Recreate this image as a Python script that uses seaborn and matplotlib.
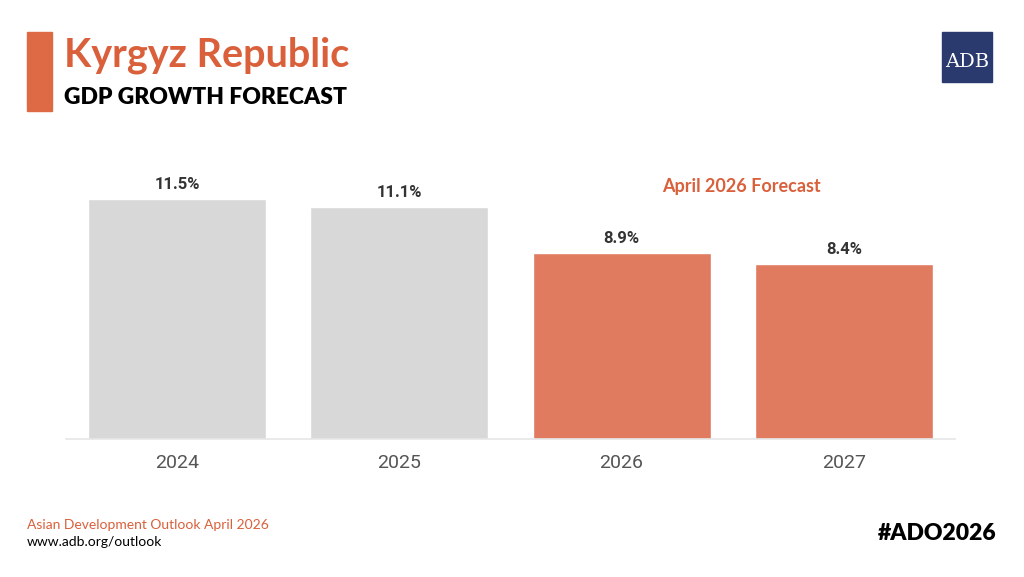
import matplotlib.pyplot as plt
import matplotlib.patches as mpatches
import pandas as pd
import seaborn as sns

# Data
years = ["2024", "2025", "2026", "2027"]
growth = [11.5, 11.1, 8.9, 8.4]
kind = ["Actual", "Actual", "Forecast", "Forecast"]
labels = ["11.5%", "11.1%", "8.9%", "8.4%"]

ORANGE = "#d9603b"
BAR_ORANGE = "#e07b60"
BAR_GRAY = "#d8d8d8"

sns.set_theme(style="white")
plt.rcParams["font.family"] = ["Lato", "DejaVu Sans"]

df = pd.DataFrame({"year": years, "growth": growth, "kind": kind})

fig = plt.figure(figsize=(10.24, 5.77), dpi=100)
fig.patch.set_facecolor("white")

W, H = 1024, 577
ax = fig.add_axes([66 / W, 1 - 439 / H, (955 - 66) / W, (439 - 150) / H])
sns.barplot(
    data=df, x="year", y="growth", hue="kind",
    palette={"Actual": BAR_GRAY, "Forecast": BAR_ORANGE},
    width=0.8, dodge=False, legend=False, saturation=1, ax=ax,
)
ax.set_xlim(-0.5, 3.5)
ax.set_ylim(0, 11.5 * 289 / 240)

for i, (v, lab) in enumerate(zip(growth, labels)):
    ax.annotate(lab, (i, v), xytext=(0, 5), textcoords="offset points",
                ha="center", va="bottom", fontsize=12, fontweight="bold",
                color="#333333", family=["Roboto", "DejaVu Sans"])

ax.text(2.54, 12.12, "April 2026 Forecast", ha="center", va="center",
        fontsize=13, fontweight="bold", color=ORANGE)

for side in ["top", "right", "left"]:
    ax.spines[side].set_visible(False)
ax.spines["bottom"].set_color("#e6e6e6")
ax.spines["bottom"].set_linewidth(1.2)
ax.set_yticks([])
ax.set_xlabel("")
ax.set_ylabel("")
ax.tick_params(axis="x", length=6, width=1, color="#e6e6e6", pad=5,
               labelsize=14, labelcolor="#555555")
for t in ax.get_xticklabels():
    t.set_family(["Roboto", "DejaVu Sans"])

# Header
fig.patches.append(mpatches.Rectangle((27 / W, 1 - 111 / H), 25 / W, 79 / H,
                                      transform=fig.transFigure,
                                      color="#dd6a45", zorder=5))
fig.text(64 / W, 1 - 67 / H, "Kyrgyz Republic", fontsize=28.5,
         fontweight="bold", color=ORANGE, va="baseline")
fig.text(64 / W, 1 - 104 / H, "GDP GROWTH FORECAST", fontsize=16.5,
         fontweight="heavy", color="black", va="baseline")

# ADB logo
fig.patches.append(mpatches.Rectangle((942 / W, 1 - 82 / H), 50 / W, 50 / H,
                                      transform=fig.transFigure,
                                      color="#2b3a6e", zorder=5))
fig.text(967 / W, 1 - 62 / H, "ADB", fontsize=14, color="white",
         ha="center", va="center", family="DejaVu Serif", zorder=6)

# Footer
fig.text(27 / W, 1 - 525 / H, "Asian Development Outlook April 2026",
         fontsize=10, color=ORANGE, va="center")
fig.text(27 / W, 1 - 542 / H, "www.adb.org/outlook", fontsize=10,
         color="black", va="center")
fig.text(997 / W, 1 - 533 / H, "#ADO2026", fontsize=16.5,
         fontweight="heavy", color="black", ha="right", va="center")

fig.savefig("out.png", dpi=100, facecolor="white")
